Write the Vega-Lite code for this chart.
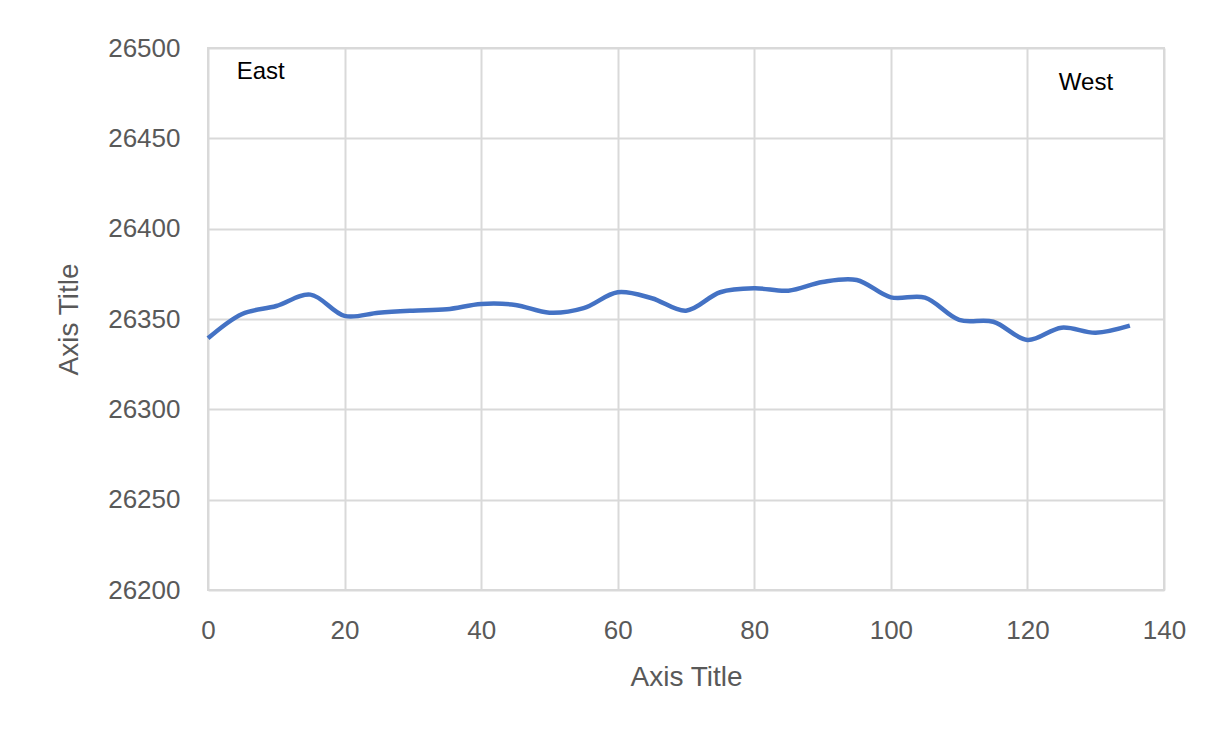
{
  "$schema": "https://vega.github.io/schema/vega-lite/v6.json",
  "width": 956,
  "height": 542,
  "autosize": {"type": "none"},
  "padding": {"left": 208, "top": 48, "right": 59, "bottom": 148},
  "background": "white",
  "config": {
    "view": {"stroke": "#d9d9d9", "strokeWidth": 2},
    "axis": {
      "labelFont": "Liberation Sans",
      "titleFont": "Liberation Sans",
      "labelColor": "#595959",
      "titleColor": "#595959",
      "labelFontSize": 26,
      "titleFontSize": 28,
      "titleFontWeight": "normal",
      "gridColor": "#d9d9d9",
      "gridWidth": 2,
      "domain": false,
      "ticks": false,
      "labelFlush": false
    }
  },
  "datasets": {
    "profile": [
      {"distance": 0, "value": 26339.3},
      {"distance": 5, "value": 26352.8},
      {"distance": 10, "value": 26357.2},
      {"distance": 15, "value": 26363.5},
      {"distance": 20, "value": 26351.7},
      {"distance": 25, "value": 26353.5},
      {"distance": 30, "value": 26354.6},
      {"distance": 35, "value": 26355.4},
      {"distance": 40, "value": 26358.3},
      {"distance": 45, "value": 26357.8},
      {"distance": 50, "value": 26353.5},
      {"distance": 55, "value": 26356.0},
      {"distance": 60, "value": 26364.8},
      {"distance": 65, "value": 26361.5},
      {"distance": 70, "value": 26354.6},
      {"distance": 75, "value": 26364.8},
      {"distance": 80, "value": 26367.0},
      {"distance": 85, "value": 26365.7},
      {"distance": 90, "value": 26370.5},
      {"distance": 95, "value": 26371.6},
      {"distance": 100, "value": 26362.0},
      {"distance": 105, "value": 26361.8},
      {"distance": 110, "value": 26349.5},
      {"distance": 115, "value": 26348.5},
      {"distance": 120, "value": 26338.4},
      {"distance": 125, "value": 26345.2},
      {"distance": 130, "value": 26342.4},
      {"distance": 135, "value": 26346.3}
    ],
    "labels": [
      {"distance": 4.2, "value": 26486.7, "text": "East"},
      {"distance": 124.6, "value": 26480.6, "text": "West"}
    ]
  },
  "layer": [
    {
      "data": {"name": "profile"},
      "mark": {"type": "line", "color": "#4472C4", "strokeWidth": 4.5, "interpolate": "catmull-rom"},
      "encoding": {
        "x": {
          "field": "distance",
          "type": "quantitative",
          "scale": {"domain": [0, 140], "nice": false},
          "axis": {"values": [0, 20, 40, 60, 80, 100, 120, 140], "format": "d", "title": "Axis Title", "labelPadding": 27, "titlePadding": 20}
        },
        "y": {
          "field": "value",
          "type": "quantitative",
          "scale": {"domain": [26200, 26500], "nice": false, "zero": false},
          "axis": {"values": [26200, 26250, 26300, 26350, 26400, 26450, 26500], "format": "d", "title": "Axis Title", "labelPadding": 28, "titlePadding": 24}
        }
      }
    },
    {
      "data": {"name": "labels"},
      "mark": {"type": "text", "align": "left", "baseline": "middle", "font": "Liberation Sans", "fontSize": 24, "color": "black"},
      "encoding": {
        "x": {"field": "distance", "type": "quantitative"},
        "y": {"field": "value", "type": "quantitative"},
        "text": {"field": "text"}
      }
    }
  ]
}
